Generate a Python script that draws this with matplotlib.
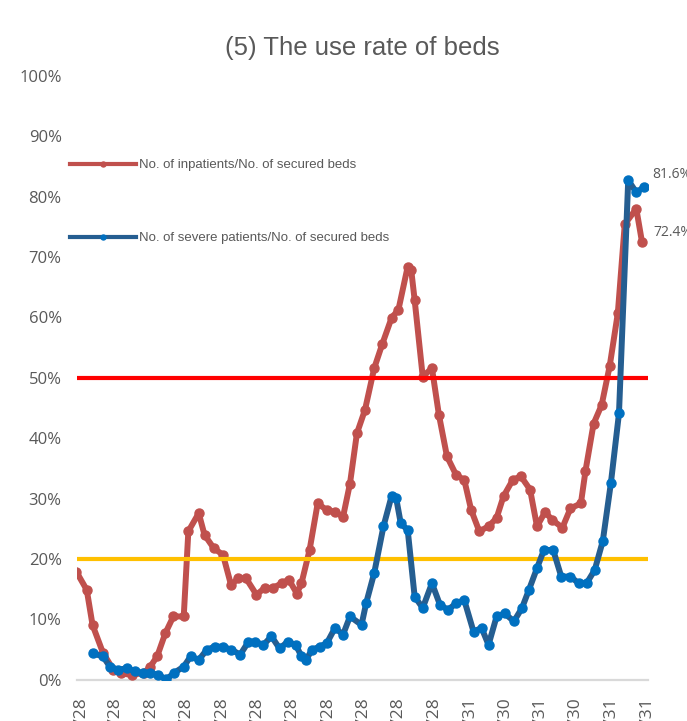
import matplotlib
matplotlib.use("Agg")
import matplotlib.pyplot as plt
import matplotlib.ticker as mticker
import pandas as pd

# bed use rate (%), x = days after 2020/4/28
start = pd.Timestamp("2020-04-28")

red_days = [-4, 5, 10, 19, 28, 35, 44, 55, 60, 66, 73, 80, 89, 93, 102, 107, 115, 123, 130, 136,
            143, 152, 159, 166, 174, 180, 187, 191, 198, 205, 213, 220, 227, 233, 239, 246, 254, 261, 269, 275,
            283, 286, 289, 296, 304, 310, 317, 325, 332, 338, 345, 353, 360, 366, 374, 381, 389, 395, 402, 408,
            417, 424, 433, 437, 444, 451, 458, 465, 471, 481, 486]
red_vals = [17.9, 14.9, 9.1, 4.5, 1.7, 1.1, 0.8, 1.2, 2.2, 3.9, 7.7, 10.5, 10.5, 24.6, 27.6, 24.0, 21.8, 20.7, 15.7, 16.8,
            16.8, 14.1, 15.2, 15.2, 16.0, 16.6, 14.3, 16.0, 21.5, 29.2, 28.1, 27.8, 27.0, 32.5, 40.8, 44.7, 51.6, 55.6, 59.9, 61.3,
            68.4, 67.9, 62.9, 50.2, 51.6, 43.9, 37.0, 33.9, 33.1, 28.1, 24.6, 25.4, 26.8, 30.4, 33.1, 33.7, 31.5, 25.4, 27.8, 26.5,
            25.2, 28.4, 29.2, 34.6, 42.4, 45.5, 52.0, 60.7, 75.4, 78.0, 72.4]

blue_days = [10, 19, 25, 32, 40, 47, 54, 60, 67, 74, 81, 89, 95, 102, 109, 116, 123, 130, 138, 145,
             151, 158, 165, 172, 179, 186, 191, 195, 200, 207, 213, 220, 227, 233, 243, 247, 254, 262, 269, 273,
             277, 283, 289, 296, 304, 311, 318, 325, 332, 340, 347, 353, 360, 367, 375, 382, 388, 395, 401, 409,
             416, 424, 431, 438, 445, 452, 459, 466, 474, 481, 488]
blue_vals = [4.4, 3.9, 2.2, 1.7, 1.9, 1.4, 1.1, 1.2, 0.8, 0.1, 1.2, 2.2, 3.9, 3.3, 5.0, 5.5, 5.5, 5.0, 4.2, 6.3,
             6.3, 5.8, 7.2, 5.2, 6.3, 5.8, 3.9, 3.3, 5.0, 5.5, 6.1, 8.6, 7.5, 10.5, 9.1, 12.7, 17.7, 25.4, 30.4, 30.1,
             25.9, 24.8, 13.8, 11.9, 16.0, 12.4, 11.6, 12.7, 13.2, 8.0, 8.6, 5.8, 10.5, 11.0, 9.7, 11.9, 14.9, 18.5, 21.5, 21.5,
             17.1, 17.1, 16.0, 16.0, 18.2, 23.0, 32.6, 44.1, 82.7, 80.7, 81.6]

red_label = "No. of inpatients/No. of secured beds"
blue_label = "No. of severe patients/No. of secured beds"

tick_dates = ["2020-04-28", "2020-05-28", "2020-06-28", "2020-07-28", "2020-08-28", "2020-09-28",
              "2020-10-28", "2020-11-28", "2020-12-28", "2021-01-28", "2021-02-28", "2021-03-31",
              "2021-04-30", "2021-05-31", "2021-06-30", "2021-07-31", "2021-08-31"]
tick_labels = ["2020/4/28", "2020/5/28", "2020/6/28", "2020/7/28", "2020/8/28", "2020/9/28",
               "2020/10/28", "2020/11/28", "2020/12/28", "2021/1/28", "2021/2/28", "2021/3/31",
               "2021/4/30", "2021/5/31", "2021/6/30", "2021/7/31", "2021/8/31"]

warn_levels = [50, 20]
warn_colours = ["#FF0000", "#FFC000"]

title = "(5) The use rate of beds"

grey = "#595959"

red_x = start + pd.to_timedelta(red_days, unit="D")
blue_x = start + pd.to_timedelta(blue_days, unit="D")

fig = plt.figure(figsize=(6.87, 7.21), dpi=100)
ax = fig.add_axes([0.112, 0.057, 0.831, 0.838])

ax.plot(red_x, red_vals, color="#C0504D", lw=4.3, marker="o", ms=6.5,
        mfc="#C0504D", mec="#C0504D", zorder=2, label=red_label)
for lvl, col in zip(warn_levels, warn_colours):
    ax.axhline(lvl, color=col, lw=3, zorder=3)
ax.plot(blue_x, blue_vals, color="#255E91", lw=4.3, marker="o", ms=6.5,
        mfc="#0070C0", mec="#0070C0", zorder=4, label=blue_label)

# baseline
ax.axhline(0, color="#D9D9D9", lw=1.6, zorder=1, clip_on=False)

ax.set_ylim(0, 100)
ax.set_xlim(start - pd.Timedelta(days=3.5), start + pd.Timedelta(days=491))
ax.set_yticks(range(0, 101, 10))
ax.yaxis.set_major_formatter(mticker.FormatStrFormatter("%d%%"))
ax.set_xticks(pd.to_datetime(tick_dates))
ax.set_xticklabels(tick_labels, rotation=90)

for lab in ax.get_yticklabels():
    lab.set_family("Open Sans")
    lab.set_fontsize(12)
    lab.set_color(grey)
for lab in ax.get_xticklabels():
    lab.set_family("Open Sans")
    lab.set_fontsize(12.5)
    lab.set_color(grey)
ax.tick_params(axis="y", length=0, pad=11)
ax.tick_params(axis="x", length=0, pad=12.5)

for s in ax.spines.values():
    s.set_visible(False)

# value labels at the last points
ax.annotate(f"{blue_vals[-1]}%", (blue_x[-1], blue_vals[-1]), xytext=(6, 9),
            textcoords="offset points", ha="left", va="center", fontsize=10,
            family="Open Sans", color=grey, annotation_clip=False)
ax.annotate(f"{red_vals[-1]}%", (red_x[-1], red_vals[-1]), xytext=(8, 7),
            textcoords="offset points", ha="left", va="center", fontsize=10,
            family="Open Sans", color=grey, annotation_clip=False)

leg = ax.legend(loc="upper left", bbox_to_anchor=(-0.012, 0.862), frameon=False,
                borderpad=0, borderaxespad=0, handlelength=5.0, handletextpad=0.25,
                labelspacing=4.6, markerscale=0.55,
                prop={"family": "Liberation Sans", "size": 9.5})
for t in leg.get_texts():
    t.set_color(grey)
for h in leg.legend_handles:
    h.set_linewidth(3)

fig.text(0.528, 0.934, title, ha="center", va="center", fontsize=18.5,
         family="Liberation Sans", color=grey)

fig.savefig("out.png", dpi=100)
